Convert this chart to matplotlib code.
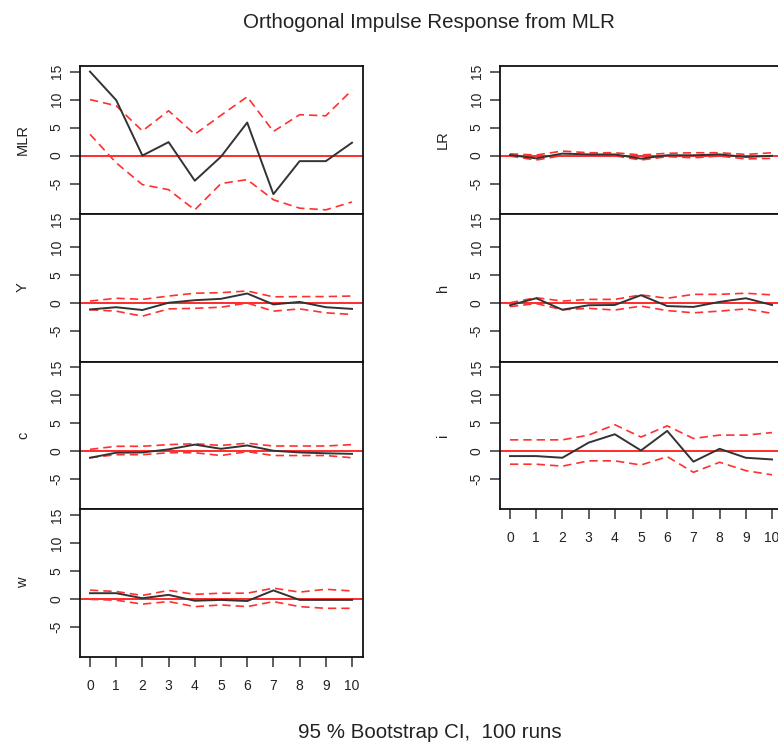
import numpy as np
import matplotlib.pyplot as plt

plt.rcParams['font.family'] = ['Liberation Sans', 'DejaVu Sans']

# horizon
steps = list(range(11))

# impulse responses (orthogonal, shock to MLR) with bootstrap bands
mlr_irf = [15.0, 9.9, 0.0, 2.4, -4.5, -0.2, 5.9, -6.9, -1.0, -1.0, 2.3]
mlr_upper = [10.0, 8.9, 4.4, 8.0, 3.8, 7.2, 10.5, 4.3, 7.3, 7.1, 11.7]
mlr_lower = [3.8, -1.3, -5.2, -6.1, -9.7, -5.0, -4.3, -7.9, -9.4, -9.7, -8.3]

y_irf = [-1.1, -0.7, -1.2, 0.1, 0.55, 0.8, 1.75, -0.2, 0.25, -0.7, -1.0]
y_upper = [0.4, 0.9, 0.7, 1.3, 1.8, 1.9, 2.2, 1.15, 1.2, 1.2, 1.3]
y_lower = [-1.15, -1.4, -2.3, -1.0, -0.9, -0.7, 0.05, -1.4, -1.0, -1.7, -2.0]

c_irf = [-1.2, -0.3, -0.25, 0.3, 1.15, 0.4, 1.0, 0.05, -0.25, -0.4, -0.5]
c_upper = [0.3, 0.85, 0.85, 1.15, 1.3, 1.0, 1.4, 0.9, 0.9, 0.9, 1.15]
c_lower = [-1.2, -0.65, -0.65, -0.3, -0.3, -0.8, -0.1, -0.8, -0.8, -0.8, -1.2]

w_irf = [1.0, 1.0, 0.1, 0.7, -0.35, -0.2, -0.4, 1.5, -0.2, -0.2, -0.2]
w_upper = [1.55, 1.3, 0.6, 1.5, 0.8, 1.0, 1.0, 1.9, 1.2, 1.7, 1.4]
w_lower = [-0.1, -0.25, -0.95, -0.5, -1.4, -1.1, -1.4, -0.5, -1.4, -1.7, -1.7]

lr_irf = [0.1, -0.5, 0.35, 0.2, 0.2, -0.55, 0.05, 0.05, 0.2, -0.25, -0.05]
lr_upper = [0.3, 0.1, 0.8, 0.5, 0.5, 0.1, 0.4, 0.5, 0.5, 0.2, 0.5]
lr_lower = [-0.1, -0.8, 0.0, -0.05, -0.05, -0.8, -0.2, -0.4, -0.1, -0.6, -0.5]

h_irf = [-0.35, 0.9, -1.15, -0.35, -0.3, 1.45, -0.5, -0.65, 0.25, 0.9, -0.3]
h_upper = [0.1, 1.0, 0.4, 0.7, 0.7, 1.5, 0.9, 1.6, 1.6, 1.8, 1.5]
h_lower = [-0.6, -0.05, -1.15, -0.9, -1.2, -0.5, -1.3, -1.7, -1.4, -1.0, -1.8]

i_irf = [-0.9, -0.9, -1.2, 1.5, 3.0, 0.1, 3.6, -1.9, 0.4, -1.2, -1.5]
i_upper = [2.0, 2.0, 2.0, 2.85, 4.7, 2.5, 4.5, 2.25, 2.85, 2.85, 3.3]
i_lower = [-2.35, -2.35, -2.7, -1.75, -1.75, -2.5, -1.0, -3.8, -2.0, -3.5, -4.25]

left_panels = [("MLR", mlr_irf, mlr_upper, mlr_lower),
               ("Y", y_irf, y_upper, y_lower),
               ("c", c_irf, c_upper, c_lower),
               ("w", w_irf, w_upper, w_lower)]
right_panels = [("LR", lr_irf, lr_upper, lr_lower),
                ("h", h_irf, h_upper, h_lower),
                ("i", i_irf, i_upper, i_lower)]

yticks = [-5, 0, 5, 10, 15]
txt = "#222222"


def draw_panel(ax, name, irf, upper, lower, last):
    ax.plot(steps, irf, color="#333333", lw=1.4, zorder=3)
    ax.plot(steps, upper, color="#ff3030", lw=1.2, ls=(0, (5, 3)), zorder=2)
    ax.plot(steps, lower, color="#ff3030", lw=1.2, ls=(0, (5, 3)), zorder=2)
    ax.axhline(0, color="#ff1a1a", lw=1.3, zorder=1)
    ax.set_xlim(-0.4, 10.4)
    ax.set_ylim(-10.4, 16.0)
    ax.set_yticks(yticks)
    ax.set_yticklabels([str(t) for t in yticks], rotation=90, va="center",
                       fontsize=10, color=txt)
    ax.tick_params(axis="y", direction="out", length=7.5, width=1.1, pad=4,
                   color="#333333")
    ax.set_ylabel(name, fontsize=10.5, color=txt, labelpad=14)
    if last:
        ax.set_xticks(steps)
        ax.set_xticklabels([str(s) for s in steps], fontsize=10, color=txt)
        ax.tick_params(axis="x", direction="out", length=7.5, width=1.1,
                       pad=8, color="#333333")
    else:
        ax.set_xticks([])
    for sp in ax.spines.values():
        sp.set_color("#111111")
        sp.set_linewidth(1.3)


fig = plt.figure(figsize=(7.78, 7.45), dpi=100)
W, H = 778.0, 745.0
top = 66.0
ph = 147.75
aw = 283.0

for k, (name, irf, up, lo) in enumerate(left_panels):
    y0 = 1 - (top + (k + 1) * ph) / H
    ax = fig.add_axes([79.5 / W, y0, aw / W, ph / H])
    draw_panel(ax, name, irf, up, lo, k == len(left_panels) - 1)

for k, (name, irf, up, lo) in enumerate(right_panels):
    y0 = 1 - (top + (k + 1) * ph) / H
    ax = fig.add_axes([499.5 / W, y0, aw / W, ph / H])
    draw_panel(ax, name, irf, up, lo, k == len(right_panels) - 1)

fig.text(429 / W, 1 - 22 / H, "Orthogonal Impulse Response from MLR",
         ha="center", va="center", fontsize=14.8, color=txt)
fig.text(430 / W, 1 - 733 / H, "95 % Bootstrap CI,  100 runs",
         ha="center", va="center", fontsize=14.8, color=txt)

fig.savefig("out.png", dpi=100)
